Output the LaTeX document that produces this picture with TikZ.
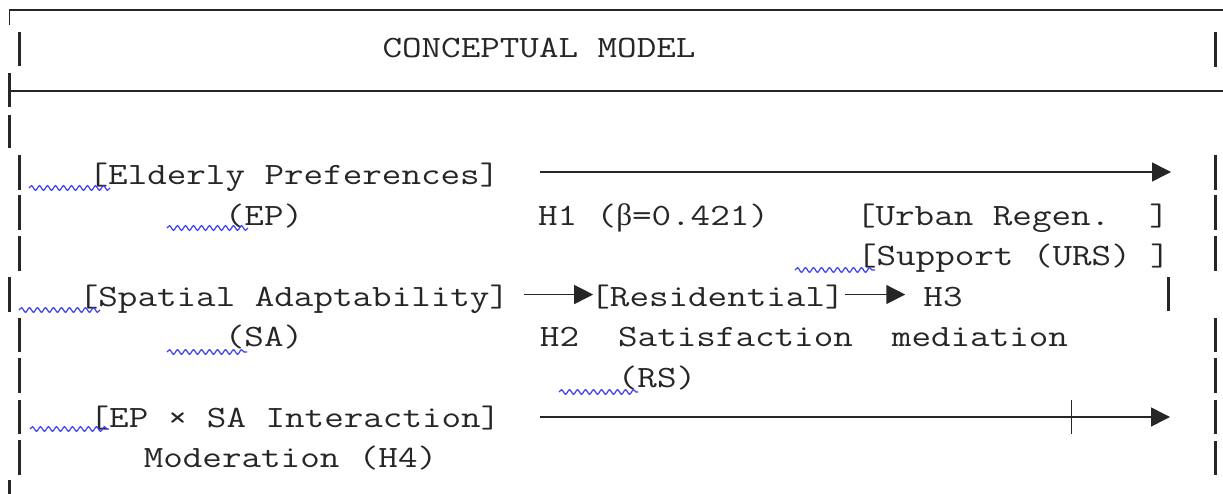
\documentclass[tikz,border=0pt]{standalone}
\usepackage{fontspec}
\newfontfamily\courfont{Latin Modern Mono}[FakeStretch=1.225]
\newfontfamily\greekserif{Liberation Serif}
\usetikzlibrary{arrows.meta,decorations.pathmorphing}
\definecolor{ink}{RGB}{38,38,38}
\definecolor{spell}{RGB}{60,60,250}
\newcommand{\gbeta}{{\greekserif β}}
\begin{document}
\begin{tikzpicture}[x=1pt,y=-1pt,
  txt/.style={font=\courfont\fontsize{31}{36}\selectfont, text=ink, inner sep=0pt, anchor=base},
  bar/.style={line width=2.4pt, draw=ink},
  rulebar/.style={line width=1.5pt, draw=ink},
  arr/.style={line width=1.5pt, draw=ink, -{Triangle[length=19pt,width=19pt]}},
  spellmark/.style={draw=spell, line width=1.2pt, decorate,
    decoration={snake, amplitude=2.3pt, segment length=8pt}}]
\useasboundingbox (0,0) rectangle (1223,494);

% frame rules of the title row
\draw[rulebar] (9.5,25) -- (9.5,10) -- (1224,10);
\draw[rulebar] (9.5,91) -- (1224,91);
\draw[bar] (9.5,73) -- (9.5,107);

% vertical border segments
\foreach \a/\b in {115/148, 277/312, 480/495}
  \draw[bar] (9.5,\a) -- (9.5,\b);
\foreach \a/\b in {32/66, 155/190, 195/230, 236/271, 318/352, 358/393, 400/434, 440/475}
  \draw[bar] (19.5,\a) -- (19.5,\b);
\foreach \a/\b in {32/67, 155/190, 195/230, 236/271, 318/352, 358/393, 400/434, 441/475}
  \draw[bar] (1215.5,\a) -- (1215.5,\b);
\draw[bar] (1168.5,277) -- (1168.5,311);

% texts
\node[txt] (title) at (539,58) {CONCEPTUAL MODEL};
\node[txt] (ep1) at (294,185) {[Elderly Preferences]};
\node[txt] (ep2) at (264,225.5) {(EP)};
\node[txt] (h1) at (653.5,225.5) {H1 (\gbeta=0.421)};
\node[txt] (urs1) at (1012.5,225.5) {[Urban Regen.~~]};
\node[txt] (urs2) at (1013.5,266) {[Support (URS) ]};
\node[txt] (sa1) at (294,306) {[Spatial Adaptability]};
\node[txt] (res1) at (717.5,306) {[Residential]};
\node[txt] (h3) at (943,306) {H3};
\node[txt] (sa2) at (264,346.5) {(SA)};
\node[txt] (h2) at (804,346.5) {H2~~Satisfaction~~mediation};
\node[txt] (rs) at (657,387) {(RS)};
\node[txt] (ix) at (295,427) {[EP × SA Interaction]};
\node[txt] (mod) at (290.5,467.5) {Moderation (H4)};

% arrows
\coordinate (a1s) at (540,172);
\coordinate (a1e) at (1171,172);
\draw[arr] (a1s) -- (a1e);
\draw[arr, shorten <=15pt, shorten >=-3pt] ([yshift=2pt]res1.west -| sa1.east) -- ([yshift=2pt]res1.west);
\draw[arr, shorten >=18pt] ([yshift=2pt]res1.east) -- ([yshift=2pt]res1.east -| h3.west);
\coordinate (a7s) at (540,417);
\coordinate (a7e) at (1170,417);
\coordinate (t7a) at (1071,400);
\coordinate (t7b) at (1071,434);
\draw[arr] (a7s) -- (a7e);
\draw[line width=1pt, draw=ink] (t7a) -- (t7b);

% wavy underlines
\draw[spellmark] (29,188) -- (110,188);
\draw[spellmark] (167,228) -- (248,228);
\draw[spellmark] (795,270) -- (875,270);
\draw[spellmark] (19,310) -- (100,310);
\draw[spellmark] (167,352) -- (247,352);
\draw[spellmark] (559,392) -- (638,392);
\draw[spellmark] (30,429) -- (109,429);
\end{tikzpicture}
\end{document}
